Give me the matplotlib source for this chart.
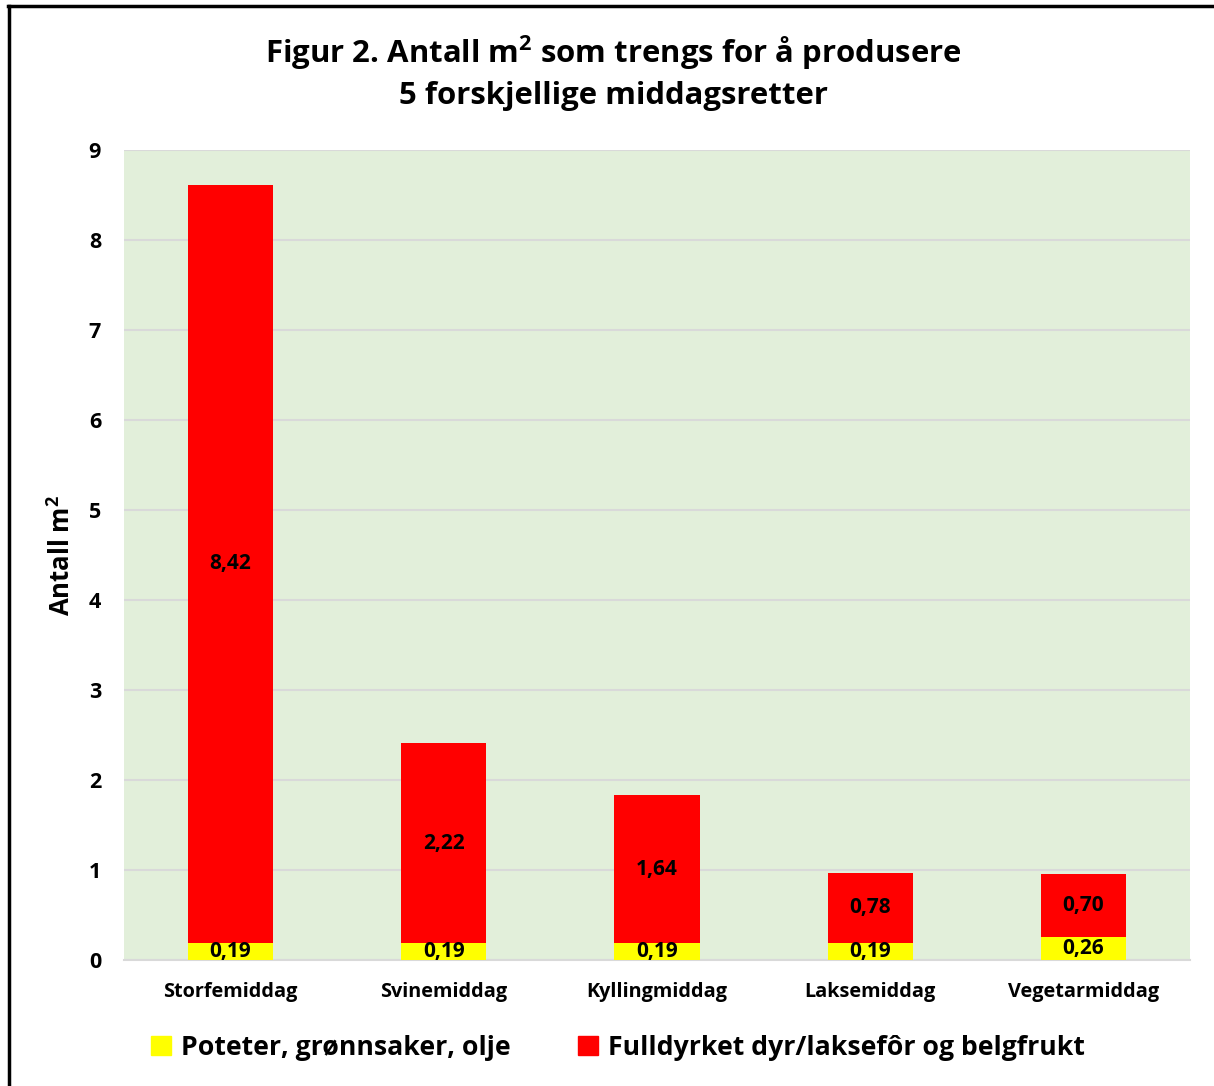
import numpy as np
import matplotlib.pyplot as plt
from matplotlib.lines import Line2D
from matplotlib.patches import Patch

plt.rcParams['font.family'] = ['Open Sans', 'DejaVu Sans']
plt.rcParams['font.weight'] = 'bold'
plt.rcParams['mathtext.fontset'] = 'custom'
plt.rcParams['mathtext.bf'] = 'Open Sans:bold'

retter = ["Storfemiddag", "Svinemiddag", "Kyllingmiddag", "Laksemiddag", "Vegetarmiddag"]
poteter = [0.19, 0.19, 0.19, 0.19, 0.26]
fulldyrket = [8.42, 2.22, 1.64, 0.78, 0.70]
serier = ["Poteter, grønnsaker, olje", "Fulldyrket dyr/laksefôr og belgfrukt"]

W, H = 1214, 1086
fig = plt.figure(figsize=(W / 100, H / 100), dpi=100)
ax = fig.add_axes([124 / W, 1 - 960 / H, (1190 - 124) / W, (960 - 150) / H])
ax.set_facecolor("#E2EFDA")

x = np.arange(len(retter))
b1 = ax.bar(x, poteter, width=0.4, color="#FFFF00", zorder=3)
b2 = ax.bar(x, fulldyrket, width=0.4, bottom=poteter, color="#FF0000", zorder=3)

for rects, vals in ((b1, poteter), (b2, fulldyrket)):
    for r, v in zip(rects, vals):
        ax.text(r.get_x() + r.get_width() / 2, r.get_y() + r.get_height() / 2,
                f"{v:.2f}".replace(".", ","), ha="center", va="center",
                fontsize=15, fontweight="bold", zorder=4)

ax.set_xlim(-0.5, len(retter) - 0.5)
ax.set_ylim(0, 9)
ax.set_yticks(range(10))
ax.yaxis.grid(True, color="#D9D9D9", linewidth=1.5, zorder=0)
ax.set_axisbelow(True)
for s in ("left", "right", "top"):
    ax.spines[s].set_visible(False)
ax.spines["bottom"].set_color("#D9D9D9")
ax.spines["bottom"].set_linewidth(1.5)
ax.tick_params(axis="both", length=0, labelsize=15.5)
ax.tick_params(axis="y", pad=16.5)
ax.tick_params(axis="x", pad=16)
ax.set_xticks(x)
ax.set_xticklabels(retter, fontsize=14.3, fontweight="bold")
ax.set_ylabel("Antall m$^\\mathbf{2}$", fontsize=18.5, fontweight="bold", labelpad=9)

fig.text(0.505, 1 - 72 / H, "Figur 2. Antall m$^\\mathbf{2}$ som trengs for å produsere\n5 forskjellige middagsretter",
         ha="center", va="center", fontsize=22.4, fontweight="bold", linespacing=1.38)

handles = [Patch(color="#FFFF00"), Patch(color="#FF0000")]
fig.legend(handles, serier, loc="center", bbox_to_anchor=(0.509, 1 - 1048 / H),
           ncol=2, frameon=False, fontsize=19.2, handlelength=0.75, handleheight=0.75,
           handletextpad=0.4, columnspacing=2.5)

# kant oppe og til venstre
fig.add_artist(Line2D([8 / W, 1], [1 - 6 / H, 1 - 6 / H], color="black", linewidth=2.5))
fig.add_artist(Line2D([9 / W, 9 / W], [0, 1 - 6 / H], color="black", linewidth=2.5))

fig.savefig("out.png", dpi=100)
